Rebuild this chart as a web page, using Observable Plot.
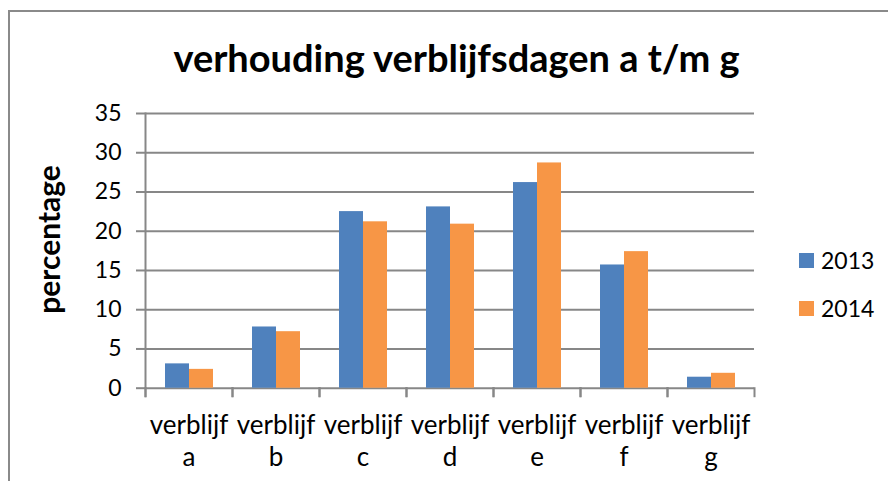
<!DOCTYPE html>
<html>
<head>
<meta charset="utf-8">
<script src="https://cdn.jsdelivr.net/npm/d3@7"></script>
<script src="https://cdn.jsdelivr.net/npm/@observablehq/plot@0.6"></script>
<style>
  html, body { margin: 0; padding: 0; background: #fff; }
  #wrap { position: relative; width: 888px; height: 481px; overflow: hidden; font-family: Lato, sans-serif; color: #000; }
  #border { position: absolute; left: 8px; top: 10px; width: 900px; height: 500px; border-left: 2px solid #8a8a8a; border-top: 2px solid #8a8a8a; }
  #title { position: absolute; left: 9px; width: 895px; top: 38px; text-align: center; font-size: 38px; font-weight: bold; line-height: 1; white-space: nowrap; }
  #chart { position: absolute; left: 0; top: 90px; }
  .legend { position: absolute; left: 799px; font-size: 23px; line-height: 1; display: flex; align-items: center; }
  .legend span.sw { display: inline-block; width: 15px; height: 15px; margin-right: 7px; }
</style>
</head>
<body>
<div id="wrap">
  <div id="border"></div>
  <div id="title">verhouding verblijfsdagen a t/m g</div>
  <div id="chart"></div>
  <div id="legend"></div>
</div>
<script>
const categories = ["verblijf a", "verblijf b", "verblijf c", "verblijf d", "verblijf e", "verblijf f", "verblijf g"];
const years = ["2013", "2014"];
const values2013 = [3.1, 7.8, 22.5, 23.1, 26.2, 15.7, 1.4];
const values2014 = [2.4, 7.2, 21.2, 20.9, 28.7, 17.4, 1.9];
const yTicks = [0, 5, 10, 15, 20, 25, 30, 35];
const colors = ["#4F81BD", "#F79646"];
const yLabel = "percentage";

const data = categories.flatMap((cat, i) => [
  {cat, year: years[0], value: values2013[i]},
  {cat, year: years[1], value: values2014[i]}
]);

const legend = document.getElementById("legend");
const legendTops = [249, 297];
years.forEach((y, i) => {
  const row = document.createElement("div");
  row.className = "legend";
  row.style.top = legendTops[i] + "px";
  const sw = document.createElement("span");
  sw.className = "sw";
  sw.style.background = colors[i];
  row.appendChild(sw);
  row.appendChild(document.createTextNode(y));
  legend.appendChild(row);
});

const W = 888, H = 391;
const mT = 23, mB = 93.3, mL = 142, mR = 132;
const plotH = H - mT - mB;
const gray = "#878787";

const chart = Plot.plot({
  width: W, height: H,
  marginTop: mT, marginBottom: mB, marginLeft: mL, marginRight: mR,
  style: {fontFamily: "Lato, sans-serif", fontSize: "23px", color: "#000", background: "transparent", overflow: "visible"},
  fx: {domain: categories, padding: 0, axis: null},
  x: {domain: years, paddingInner: 0, paddingOuter: 0.754, axis: null},
  y: {domain: [0, 35], axis: null},
  color: {domain: years, range: colors},
  marks: [
    Plot.ruleY(yTicks, {stroke: gray, strokeWidth: 2}),
    Plot.frame({facet: "super", anchor: "left", insetBottom: -8, stroke: gray, strokeWidth: 2}),
    Plot.frame({anchor: "left", insetTop: plotH, insetBottom: -8, stroke: gray, strokeWidth: 2}),
    Plot.frame({anchor: "right", insetTop: plotH, insetBottom: -8, stroke: gray, strokeWidth: 2}),
    Plot.barY(data, {fx: "cat", x: "year", y: "value", fill: "year"}),
    Plot.axisY({ticks: yTicks, tickSize: 9, tickPadding: 15, label: null, stroke: gray, strokeWidth: 2}),
    Plot.axisFx({anchor: "bottom", tickSize: 0, tickPadding: 23, label: null, lineHeight: 1.23, fontSize: 26,
                 tickFormat: d => d.replace(" ", "\n")}),
    Plot.text([yLabel], {facet: "super", frameAnchor: "left", rotate: -90, dx: -95, dy: 63,
                         text: d => d, fontWeight: "bold", fontSize: 30, lineAnchor: "middle"})
  ]
});
document.getElementById("chart").appendChild(chart);
</script>
</body>
</html>
